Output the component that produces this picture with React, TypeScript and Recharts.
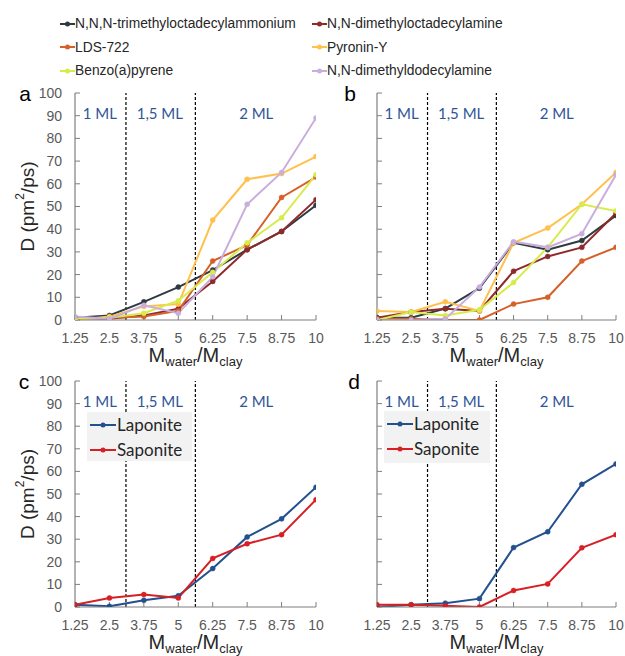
import React from 'react';
import { LineChart, Line, XAxis, YAxis, ReferenceLine, ReferenceDot, Legend } from 'recharts';

// ---------- data ----------
const xValues = [1.25, 2.5, 3.75, 5, 6.25, 7.5, 8.75, 10];
const xTickLabels = ['1.25', '2.5', '3.75', '5', '6.25', '7.5', '8.75', '10'];
const yTicks = [0, 10, 20, 30, 40, 50, 60, 70, 80, 90, 100];
const regionBounds = [3.1, 5.62];
const regionLabels = ['1 ML', '1,5 ML', '2 ML'];
const regionLabelX = [2.15, 4.33, 7.83];
const regionLabelY = 91;

const moleculeNames = [
  'N,N,N-trimethyloctadecylammonium',
  'N,N-dimethyloctadecylamine',
  'LDS-722',
  'Pyronin-Y',
  'Benzo(a)pyrene',
  'N,N-dimethyldodecylamine',
];
const moleculeColors = ['#2E3B40', '#8E2A2A', '#D5602A', '#FFC04C', '#D7EC4C', '#C9AEDD'];

const clayNames = ['Laponite', 'Saponite'];
const clayColors = ['#23508F', '#D72024'];

// panel a
const aTrimethyl = [1, 2, 8, 14.5, 22, 31, 39, 50.5];
const aDimethylOct = [1, 0.5, 2, 5, 17, 31, 39, 53];
const aLDS = [0.5, 1, 1.5, 4, 26, 33, 54, 63];
const aPyronin = [0, 1.5, 6, 7, 44, 62, 64.5, 72];
const aBenzo = [0.5, 1, 3, 8.5, 21, 34, 45, 64];
const aDodecyl = [1.5, 0.5, 6.5, 3, 19, 51, 65, 89];

// panel b
const bTrimethyl = [1, 1, 5, 14, 34, 31, 35, 46];
const bDimethylOct = [1, 3.5, 5, 4, 21.5, 28, 32, 47];
const bLDS = [0.5, 0.5, 0, 0, 7, 10, 26, 32];
const bPyronin = [4, 3.5, 8, 4, 34, 40.5, 51, 65];
const bBenzo = [0, 3.5, 2, 4.5, 16.5, 32, 51, 48];
const bDodecyl = [0, 0, 0.5, 14.5, 34.5, 32, 38, 64];

// panel c
const cLaponite = [1, 0.3, 3, 5, 17, 31, 39, 53];
const cSaponite = [1, 4, 5.5, 4, 21.5, 28, 32, 47.5];

// panel d
const dLaponite = [0, 1, 1.7, 3.7, 26.3, 33.3, 54.3, 63.3];
const dSaponite = [1, 1, 0.5, 0, 7.3, 10.2, 26.2, 32];

// ---------- styling ----------
const SANS = "'Liberation Sans', Arial, sans-serif";
const CAL = "Lato, 'Open Sans', sans-serif";
const AXIS = '#7f7f7f';
const TICK = '#595959';
const TEXT = '#262626';
const BLUE = '#2F5597';

type Series = { name: string; color: string; values: number[] };

const mk = (names: string[], colors: string[], vals: number[][]): Series[] =>
  vals.map((v, i) => ({ name: names[i], color: colors[i], values: v }));

const seriesA = mk(moleculeNames, moleculeColors, [aTrimethyl, aDimethylOct, aLDS, aPyronin, aBenzo, aDodecyl]);
const seriesB = mk(moleculeNames, moleculeColors, [bTrimethyl, bDimethylOct, bLDS, bPyronin, bBenzo, bDodecyl]);
const seriesC = mk(clayNames, clayColors, [cLaponite, cSaponite]);
const seriesD = mk(clayNames, clayColors, [dLaponite, dSaponite]);

const fmtX = (v: number) => {
  const i = xValues.indexOf(v);
  return i >= 0 ? xTickLabels[i] : String(v);
};

const orderBy = (payload: any[], names: string[]) =>
  [...payload].sort((a, b) => names.indexOf(a.value) - names.indexOf(b.value));

const LegendIcon = ({ color, w }: { color: string; w: number }) => (
  <svg width={w} height={10} style={{ display: 'block', flex: 'none' }}>
    <line x1={0} y1={5} x2={w} y2={5} stroke={color} strokeWidth={2} />
    <circle cx={w / 2} cy={5} r={2.5} fill={color} />
  </svg>
);

const TopLegend = (props: any) => {
  const payload = orderBy(props.payload || [], moleculeNames);
  return (
    <div style={{ display: 'grid', gridTemplateColumns: '252px 260px' }}>
      {payload.map((p: any) => (
        <div key={p.value} style={{ display: 'flex', alignItems: 'center', height: 23.5 }}>
          <LegendIcon color={p.color} w={15} />
          <span style={{ fontSize: 13.8, fontFamily: SANS, color: TEXT, whiteSpace: 'nowrap' }}>{p.value}</span>
        </div>
      ))}
    </div>
  );
};

const makeInnerLegend = (w: number, h: number) => (props: any) => {
  const payload = orderBy(props.payload || [], clayNames);
  return (
    <div style={{ background: '#f2f2f2', width: w, height: h, boxSizing: 'border-box', paddingLeft: 3, paddingTop: 0 }}>
      {payload.map((p: any) => (
        <div key={p.value} style={{ display: 'flex', alignItems: 'center', height: 25 }}>
          <LegendIcon color={p.color} w={26} />
          <span style={{ fontSize: 17, fontFamily: CAL, color: TEXT, marginLeft: 1, whiteSpace: 'nowrap' }}>{p.value}</span>
        </div>
      ))}
    </div>
  );
};

const makeYLabel = (letter: string, letterX: number, showTitle: boolean) => (props: any) => {
  const vb = props.viewBox || { x: 0, y: 0, width: 0, height: 0 };
  const cx = vb.x + 27;
  const cy = vb.y + vb.height / 2;
  return (
    <g>
      <text x={vb.x + letterX} y={vb.y + 7.5} textAnchor="middle" fontSize={21} fill="#000" fontFamily={SANS}>
        {letter}
      </text>
      {showTitle && (
        <text
          x={cx}
          y={cy}
          transform={`rotate(-90 ${cx} ${cy})`}
          textAnchor="middle"
          dominantBaseline="central"
          fontSize={19}
          fill={TEXT}
          fontFamily={SANS}
        >
          D (pm
          <tspan dy={-7} fontSize={12}>2</tspan>
          <tspan dy={7}>/ps)</tspan>
        </text>
      )}
    </g>
  );
};

const makeXLabel = (offset: number) => (props: any) => {
  const vb = props.viewBox || { x: 0, y: 0, width: 0, height: 0 };
  const cx = vb.x + vb.width / 2;
  const y = vb.y + offset;
  return (
    <text x={cx} y={y} textAnchor="middle" fontSize={20} fill={TEXT} fontFamily={SANS}>
      M<tspan dy={4} fontSize={13}>water</tspan>
      <tspan dy={-4}>/M</tspan>
      <tspan dy={4} fontSize={13}>clay</tspan>
    </text>
  );
};

interface PanelProps {
  left: number;
  top: number;
  width: number;
  height: number;
  margin: { top: number; right: number; bottom: number; left: number };
  yAxisWidth: number;
  xAxisHeight: number;
  xTitleOffset: number;
  showYTickLabels: boolean;
  showYTitle: boolean;
  letter: string;
  letterX: number;
  series: Series[];
  legend: 'top' | 'inner' | 'none';
  legendBox?: { left: number; top: number; width: number; height: number };
}

const Panel = (p: PanelProps) => {
  const data = xValues.map((x, i) => {
    const row: any = { x };
    p.series.forEach((s, k) => {
      row['s' + k] = s.values[i];
    });
    return row;
  });
  const lb = p.legendBox || { left: 0, top: 0, width: 1, height: 1 };
  const legendContent = p.legend === 'top' ? TopLegend : makeInnerLegend(lb.width, lb.height);
  return (
    <div style={{ position: 'absolute', left: p.left, top: p.top }}>
      <LineChart width={p.width} height={p.height} data={data} margin={p.margin}>
        <XAxis
          dataKey="x"
          type="number"
          domain={[1.25, 10]}
          ticks={xValues}
          interval={0}
          allowDataOverflow
          tickFormatter={fmtX}
          axisLine={{ stroke: AXIS, strokeWidth: 1.2 }}
          tickLine={{ stroke: AXIS }}
          tickSize={-5}
          tickMargin={18}
          height={p.xAxisHeight}
          tick={{ fill: TICK, fontSize: 14, fontFamily: SANS }}
          label={{ content: makeXLabel(p.xTitleOffset) } as any}
        />
        <XAxis
          xAxisId="top"
          orientation="top"
          type="number"
          domain={[1.25, 10]}
          ticks={xValues}
          interval={0}
          allowDataOverflow
          tickFormatter={() => ''}
          axisLine={{ stroke: AXIS, strokeWidth: 1.2 }}
          tickLine={{ stroke: AXIS }}
          tickSize={-5}
          height={0}
        />
        <YAxis
          type="number"
          domain={[0, 100]}
          ticks={yTicks}
          interval={0}
          allowDataOverflow
          width={p.yAxisWidth}
          tickFormatter={p.showYTickLabels ? (v: number) => String(v) : () => ''}
          axisLine={{ stroke: AXIS, strokeWidth: 1.2 }}
          tickLine={{ stroke: AXIS }}
          tickSize={-5}
          tickMargin={18}
          tick={{ fill: TICK, fontSize: 14, fontFamily: SANS }}
          label={{ content: makeYLabel(p.letter, p.letterX, p.showYTitle) } as any}
        />
        <YAxis
          yAxisId="right"
          orientation="right"
          type="number"
          domain={[0, 100]}
          ticks={yTicks}
          interval={0}
          allowDataOverflow
          width={0}
          tickFormatter={() => ''}
          axisLine={{ stroke: AXIS, strokeWidth: 1.2 }}
          tickLine={{ stroke: AXIS }}
          tickSize={-5}
        />
        {regionBounds.map((b) => (
          <ReferenceLine key={b} x={b} stroke="#000" strokeWidth={1.2} strokeDasharray="3 2" />
        ))}
        {regionLabels.map((t, i) => (
          <ReferenceDot
            key={t}
            x={regionLabelX[i]}
            y={regionLabelY}
            r={0}
            fill="none"
            stroke="none"
            label={{ value: t, position: 'center', fill: BLUE, fontSize: 15, fontFamily: CAL }}
          />
        ))}
        {p.legend !== 'none' && (
          <Legend
            layout="horizontal"
            verticalAlign="middle"
            align="center"
            content={legendContent}
            wrapperStyle={{ left: lb.left, top: lb.top, width: lb.width, height: lb.height }}
          />
        )}
        {p.series.map((s, k) => (
          <Line
            key={s.name}
            type="linear"
            dataKey={'s' + k}
            name={s.name}
            stroke={s.color}
            strokeWidth={2}
            dot={{ r: 2.5, fill: s.color, stroke: s.color, strokeWidth: 0.5 }}
            activeDot={false}
            isAnimationActive={false}
          />
        ))}
      </LineChart>
    </div>
  );
};

export default function App() {
  return (
    <div style={{ position: 'absolute', left: 0, top: 0, width: 625, height: 656, background: '#fff' }}>
      <Panel
        left={0}
        top={0}
        width={330}
        height={370}
        margin={{ top: 93, right: 14, bottom: 0, left: 0 }}
        yAxisWidth={75}
        xAxisHeight={50}
        xTitleOffset={42}
        showYTickLabels
        showYTitle
        letter="a"
        letterX={25}
        series={seriesA}
        legend="top"
        legendBox={{ left: 60, top: 12, width: 520, height: 71 }}
      />
      <Panel
        left={330}
        top={0}
        width={295}
        height={370}
        margin={{ top: 93, right: 9, bottom: 0, left: 0 }}
        yAxisWidth={47}
        xAxisHeight={50}
        xTitleOffset={42}
        showYTickLabels={false}
        showYTitle={false}
        letter="b"
        letterX={20}
        series={seriesB}
        legend="none"
      />
      <Panel
        left={0}
        top={370}
        width={330}
        height={286}
        margin={{ top: 11, right: 14, bottom: 0, left: 0 }}
        yAxisWidth={75}
        xAxisHeight={49}
        xTitleOffset={42}
        showYTickLabels
        showYTitle
        letter="c"
        letterX={24}
        series={seriesC}
        legend="inner"
        legendBox={{ left: 87, top: 42, width: 105, height: 49 }}
      />
      <Panel
        left={330}
        top={370}
        width={295}
        height={286}
        margin={{ top: 11, right: 9, bottom: 0, left: 0 }}
        yAxisWidth={47}
        xAxisHeight={49}
        xTitleOffset={42}
        showYTickLabels={false}
        showYTitle={false}
        letter="d"
        letterX={24}
        series={seriesD}
        legend="inner"
        legendBox={{ left: 54, top: 41, width: 106, height: 52 }}
      />
    </div>
  );
}
